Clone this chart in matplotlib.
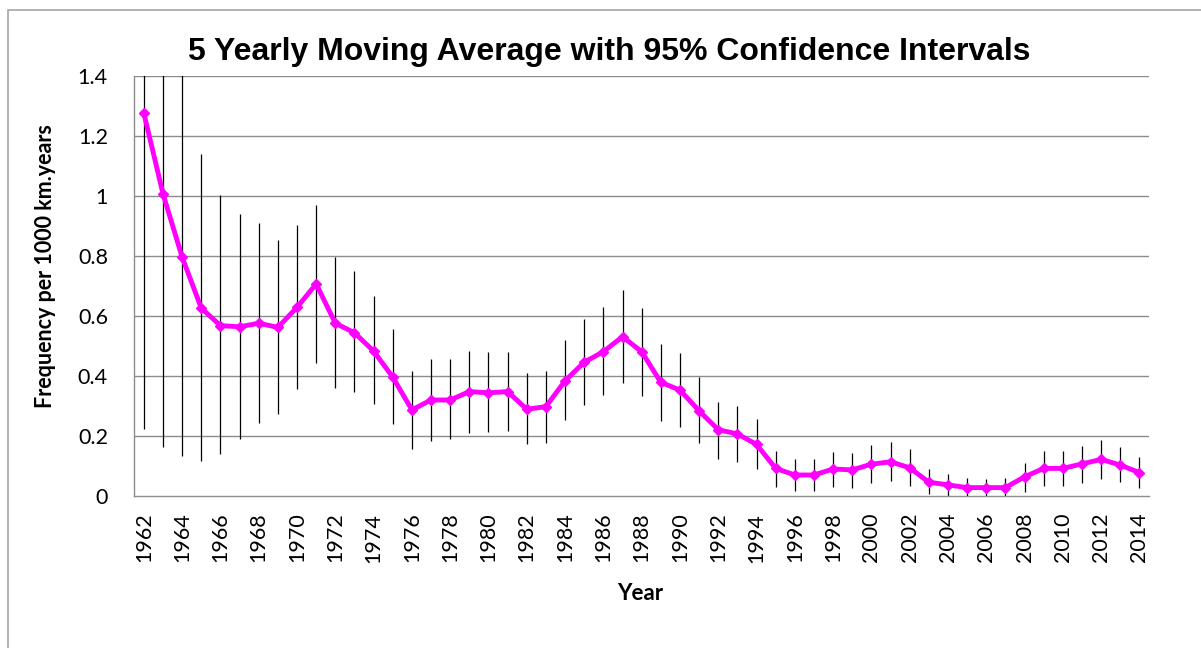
import matplotlib.pyplot as plt
import numpy as np
from matplotlib.patches import Rectangle

plt.rcParams["font.family"] = ["Lato", "DejaVu Sans"]

years = list(range(1962, 2015))
avg = [1.276, 1.007, 0.796, 0.626, 0.568, 0.564, 0.576, 0.562, 0.629, 0.707,
       0.576, 0.544, 0.483, 0.396, 0.287, 0.320, 0.320, 0.348, 0.344, 0.348,
       0.289, 0.298, 0.384, 0.446, 0.481, 0.531, 0.481, 0.379, 0.353, 0.284,
       0.221, 0.207, 0.172, 0.092, 0.070, 0.070, 0.090, 0.087, 0.106, 0.114,
       0.094, 0.046, 0.037, 0.028, 0.028, 0.028, 0.064, 0.092, 0.092, 0.107,
       0.122, 0.103, 0.078]
lower = [0.222, 0.164, 0.133, 0.117, 0.139, 0.189, 0.244, 0.272, 0.356, 0.444,
         0.359, 0.348, 0.307, 0.239, 0.157, 0.184, 0.189, 0.211, 0.214, 0.218,
         0.172, 0.178, 0.253, 0.303, 0.337, 0.378, 0.334, 0.250, 0.231, 0.178,
         0.124, 0.114, 0.090, 0.031, 0.018, 0.018, 0.031, 0.028, 0.042, 0.050,
         0.034, 0.006, 0.000, 0.000, 0.000, 0.000, 0.014, 0.034, 0.034, 0.044,
         0.056, 0.046, 0.027]
upper = [2.330, 1.850, 1.459, 1.140, 1.002, 0.940, 0.910, 0.853, 0.904, 0.970,
         0.796, 0.749, 0.667, 0.556, 0.418, 0.457, 0.457, 0.483, 0.479, 0.479,
         0.409, 0.416, 0.519, 0.589, 0.631, 0.687, 0.626, 0.506, 0.476, 0.398,
         0.315, 0.299, 0.258, 0.151, 0.122, 0.122, 0.147, 0.144, 0.170, 0.181,
         0.156, 0.090, 0.073, 0.059, 0.057, 0.059, 0.111, 0.151, 0.151, 0.168,
         0.187, 0.162, 0.129]

W, H = 1201, 648
fig = plt.figure(figsize=(W / 100, H / 100), dpi=100)
ax = fig.add_axes([134.3 / W, 1 - 496 / H, (1149 - 134.3) / W, (496 - 76) / H])

# outer chart frame (only top and left edges are visible in the crop)
fig.patches.append(Rectangle((8 / W, -0.1), 1.2, (H - 9.5) / H + 0.1, transform=fig.transFigure,
                             fill=False, ec="#a6a6a6", lw=1.2))

grid_c = "#8c8c8c"
for v in np.arange(0.2, 1.41, 0.2):
    ax.axhline(v, color=grid_c, lw=1.0, zorder=1)

ax.vlines(years, lower, upper, color="black", lw=0.9, zorder=2)
ax.plot(years, avg, color="#ff00ff", lw=3.5, marker="D", markersize=5.5,
        markeredgecolor="#ff00ff", zorder=3, clip_on=False)

ax.set_xlim(1961.5, 2014.5)
ax.set_ylim(0, 1.4)
ax.set_yticks([0, 0.2, 0.4, 0.6, 0.8, 1.0, 1.2, 1.4])
ax.set_yticklabels(["0", "0.2", "0.4", "0.6", "0.8", "1", "1.2", "1.4"])
ax.set_xticks(years[::2])
ax.set_xticklabels([str(y) for y in years[::2]], rotation=90)
ax.tick_params(axis="y", length=0, pad=19, labelsize=15.5)
ax.tick_params(axis="x", length=0, pad=12, labelsize=15.5)

for s in ["top", "right"]:
    ax.spines[s].set_visible(False)
for s in ["left", "bottom"]:
    ax.spines[s].set_color(grid_c)
    ax.spines[s].set_linewidth(1.0)

fig.text(609 / W, 1 - 60 / H, "5 Yearly Moving Average with 95% Confidence Intervals",
         family="Liberation Sans", weight="bold", fontsize=23, ha="center", va="baseline")
fig.text(45 / W, 1 - 266.5 / H, "Frequency per 1000 km.years", weight="bold", fontsize=15.5,
         rotation=90, ha="center", va="center")
fig.text(640 / W, 1 - 600.5 / H, "Year", weight="bold", fontsize=16, ha="center", va="baseline")

fig.savefig("out.png", dpi=100)
